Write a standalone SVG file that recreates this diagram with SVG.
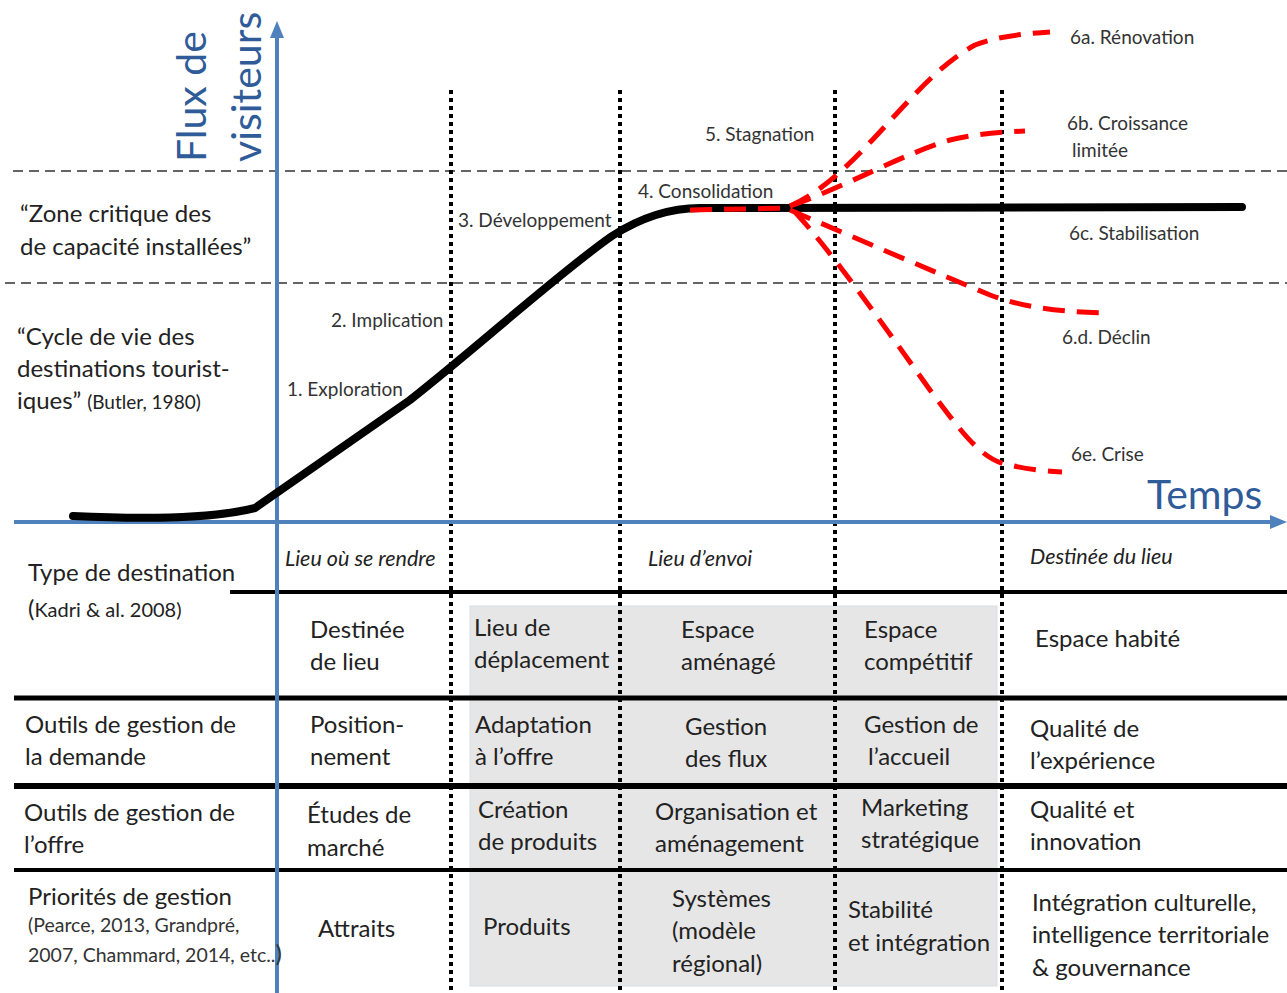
<svg xmlns="http://www.w3.org/2000/svg" width="1287" height="993" viewBox="0 0 1287 993">
<style>
text{font-family:Lato,"Open Sans","Liberation Sans",sans-serif;fill:#222}
.axis-title{fill:#2F5C99;font-size:41px}
.lbl{font-size:24px}
.sm{font-size:19.5px;fill:#333}
.ph{font-size:19px;fill:#333}
.it{font-size:21.5px;font-style:italic}
.dash{stroke:#333;stroke-width:1.6;stroke-dasharray:10 6;fill:none}
.dot{stroke:#000;stroke-width:4;stroke-dasharray:4 4;fill:none}
.row{stroke:#000;fill:none}
.axis{stroke:#4F81BD;stroke-width:4;fill:none}
.red{stroke:#F00;stroke-width:5;stroke-dasharray:22 12;fill:none}
</style>
<rect width="1287" height="993" fill="#fff"/>
<g id="shading">
<rect x="470" y="606" width="527" height="380" fill="#E6E6E6" stroke="#D6E0EE" stroke-width="1"/>
</g>
<g id="grid">
<line class="dash" x1="13" y1="171" x2="1287" y2="171"/>
<line class="dash" x1="5" y1="283" x2="1287" y2="283"/>
<line class="dot" x1="451" y1="90" x2="451" y2="993"/>
<line class="dot" x1="620" y1="90" x2="620" y2="993"/>
<line class="dot" x1="835" y1="90" x2="835" y2="993"/>
<line class="dot" x1="1002" y1="90" x2="1002" y2="993"/>
<line class="row" stroke-width="4" x1="230" y1="592" x2="1287" y2="592"/>
<line class="row" stroke-width="5" x1="14" y1="698" x2="1287" y2="698"/>
<line class="row" stroke-width="6" x1="14" y1="786" x2="1287" y2="786"/>
<line class="row" stroke-width="4" x1="14" y1="870" x2="1287" y2="870"/>
</g>
<g id="connectors">
<line class="axis" x1="277" y1="993" x2="277" y2="36"/>
<polygon points="277,21 270,38 284,38" fill="#4F81BD"/>
<line class="axis" x1="14" y1="522" x2="1272" y2="522"/>
<polygon points="1287,522 1270,515 1270,529" fill="#4F81BD"/>
<path d="M73 516 Q200 522 255 508 L410 400 C480 345 560 272 612 236 C640 218 668 208 700 208 L1242 207" stroke="#000" stroke-width="8" fill="none" stroke-linecap="round"/>
<path class="red" d="M690 210 L790 208"/>
<path class="red" d="M790 206 C860 175 910 80 975 45 C995 37 1020 34 1050 32"/>
<path class="red" d="M790 206 C850 185 900 155 950 140 C975 134 1000 132 1025 131"/>
<path class="red" d="M790 210 C860 240 930 270 990 295 C1030 310 1070 312 1110 313"/>
<path class="red" d="M795 212 C830 250 880 320 930 390 C960 430 980 458 1005 464 C1030 470 1045 471 1062 472"/>
</g>
<g id="axis-y-title">
<text class="axis-title" transform="translate(206,162) rotate(-90)">Flux de</text>
<text class="axis-title" transform="translate(261,162) rotate(-90)">visiteurs</text>
</g>
<g id="axis-x-title"><text class="axis-title" x="1147" y="509">Temps</text></g>
<g id="zone-critique"><text class="lbl" x="20" y="222">“Zone critique des</text><text class="lbl" x="20" y="255">de capacité installées”</text></g>
<g id="cycle-vie"><text class="lbl" x="17" y="345">“Cycle de vie des</text><text class="lbl" x="17" y="377">destinations tourist-</text><text class="lbl" x="17" y="409">iques” <tspan font-size="19">(Butler, 1980)</tspan></text></g>
<g id="phases">
<text class="ph" x="287" y="396">1. Exploration</text>
<text class="ph" x="331" y="327">2. Implication</text>
<text class="ph" x="458" y="227">3. Développement</text>
<text class="ph" x="638" y="198">4. Consolidation</text>
<text class="ph" x="705" y="141">5. Stagnation</text>
<text class="ph" x="1070" y="44">6a. Rénovation</text>
<text class="ph" x="1067" y="130">6b. Croissance</text>
<text class="ph" x="1072" y="157">limitée</text>
<text class="ph" x="1069" y="240">6c. Stabilisation</text>
<text class="ph" x="1062" y="344">6.d. Déclin</text>
<text class="ph" x="1071" y="461">6e. Crise</text>
</g>
<g id="row-type">
<text class="lbl" x="28" y="581">Type de destination</text>
<text class="lbl" x="28" y="617">(<tspan font-size="20">Kadri &amp; al. 2008)</tspan></text>
<text class="it" x="285" y="566">Lieu où se rendre</text>
<text class="it" x="648" y="566">Lieu d’envoi</text>
<text class="it" x="1030" y="564">Destinée du lieu</text>
<text class="lbl" x="310" y="638">Destinée</text><text class="lbl" x="310" y="670">de lieu</text>
<text class="lbl" x="474" y="636">Lieu de</text><text class="lbl" x="474" y="668">déplacement</text>
<text class="lbl" x="681" y="638">Espace</text><text class="lbl" x="681" y="670">aménagé</text>
<text class="lbl" x="864" y="638">Espace</text><text class="lbl" x="864" y="670">compétitif</text>
<text class="lbl" x="1035" y="647">Espace habité</text>
</g>
<g id="row-demande">
<text class="lbl" x="25" y="733">Outils de gestion de</text><text class="lbl" x="25" y="765">la demande</text>
<text class="lbl" x="310" y="733">Position-</text><text class="lbl" x="310" y="765">nement</text>
<text class="lbl" x="475" y="733">Adaptation</text><text class="lbl" x="475" y="765">à l’offre</text>
<text class="lbl" x="685" y="735">Gestion</text><text class="lbl" x="685" y="767">des flux</text>
<text class="lbl" x="864" y="733">Gestion de</text><text class="lbl" x="868" y="765">l’accueil</text>
<text class="lbl" x="1030" y="737">Qualité de</text><text class="lbl" x="1030" y="769">l’expérience</text>
</g>
<g id="row-offre">
<text class="lbl" x="24" y="821">Outils de gestion de</text><text class="lbl" x="24" y="853">l’offre</text>
<text class="lbl" x="307" y="823">Études de</text><text class="lbl" x="307" y="856">marché</text>
<text class="lbl" x="478" y="818">Création</text><text class="lbl" x="478" y="850">de produits</text>
<text class="lbl" x="655" y="820">Organisation et</text><text class="lbl" x="655" y="852">aménagement</text>
<text class="lbl" x="861" y="816">Marketing</text><text class="lbl" x="861" y="848">stratégique</text>
<text class="lbl" x="1030" y="818">Qualité et</text><text class="lbl" x="1030" y="850">innovation</text>
</g>
<g id="row-priorites">
<text class="lbl" x="28" y="905">Priorités de gestion</text>
<text class="sm" x="28" y="932">(Pearce, 2013, Grandpré,</text>
<text class="sm" x="28" y="962">2007, Chammard, 2014, etc..<tspan font-size="24">)</tspan></text>
<text class="lbl" x="318" y="937">Attraits</text>
<text class="lbl" x="483" y="935">Produits</text>
<text class="lbl" x="672" y="907">Systèmes</text><text class="lbl" x="672" y="939">(modèle</text><text class="lbl" x="672" y="972">régional)</text>
<text class="lbl" x="848" y="918">Stabilité</text><text class="lbl" x="848" y="951">et intégration</text>
<text class="lbl" x="1032" y="911">Intégration culturelle,</text><text class="lbl" x="1032" y="943">intelligence territoriale</text><text class="lbl" x="1032" y="976">&amp; gouvernance</text>
</g>
</svg>
